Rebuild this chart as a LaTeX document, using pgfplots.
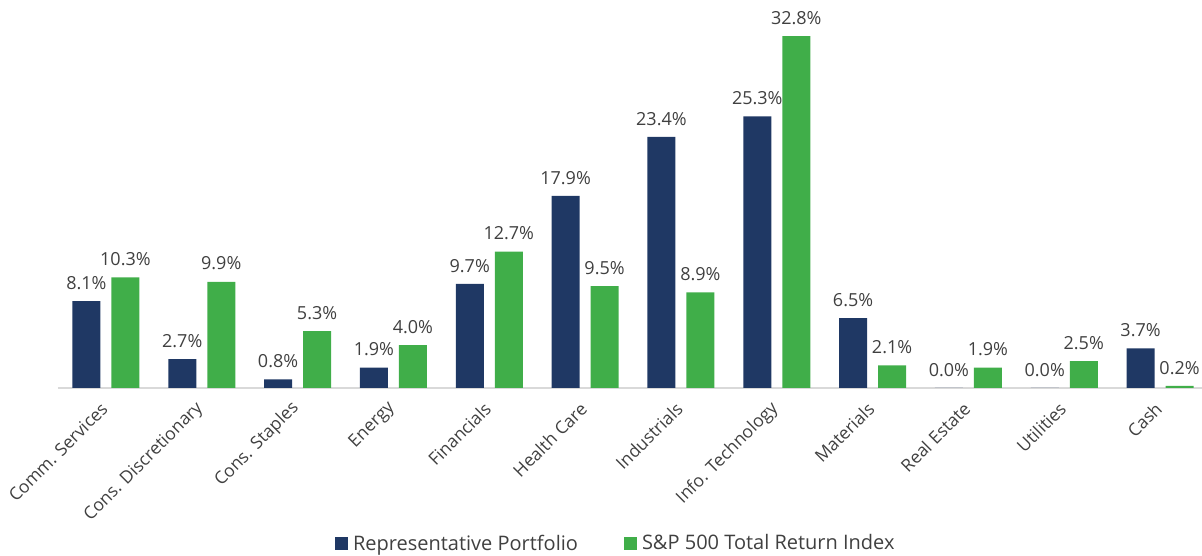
\documentclass[border=0pt]{standalone}
\usepackage{pgfplots}
\pgfplotsset{compat=1.18}
\usepackage{fontspec}
\setmainfont{Open Sans}
\definecolor{navy}{HTML}{1F3864}
\definecolor{grn}{HTML}{40AE49}
\definecolor{txt}{HTML}{404040}
\begin{document}
\begin{tikzpicture}[x=1pt,y=1pt]
\path[use as bounding box] (0,0) rectangle (1202,556);
\begin{axis}[
  at={(58pt,168pt)}, anchor=south west,
  scale only axis, width=1150pt, height=375.6pt,
  ymin=0, ymax=35, xmin=-0.5, xmax=11.5,
  ybar=11pt, bar width=28pt,
  axis y line=none,
  axis x line*=bottom,
  x axis line style={draw=black!15, line width=1.8pt, -},
  xtick=data, xtick style={draw=none},
  xticklabels={Comm. Services, Cons. Discretionary, Cons. Staples, Energy, Financials, Health Care, Industrials, Info. Technology, Materials, Real Estate, Utilities, Cash},
  xticklabel style={yshift=-11pt, xshift=1pt, rotate=45, anchor=east, font=\fontsize{17.5}{19}\selectfont, text=txt},
  /pgf/number format/assume math mode=true,
  nodes near coords={\pgfmathprintnumber[fixed,fixed zerofill,precision=1]{\pgfplotspointmeta}\%},
  every node near coord/.append style={font=\fontsize{18}{20}\selectfont, text=txt, yshift=8pt},
  legend columns=2,
  legend style={at={(0.485,-0.413)}, anchor=center, draw=none, font=\fontsize{20}{22}\selectfont, text=txt,
    /tikz/every odd column/.append style={column sep=3pt},
    /tikz/every even column/.append style={column sep=44pt}},
  legend image code/.code={\fill[#1] (0pt,-6.5pt) rectangle (13pt,6.5pt);},
]
\addplot[fill=navy, draw=none] coordinates {(0,8.1) (1,2.7) (2,0.8) (3,1.9) (4,9.7) (5,17.9) (6,23.4) (7,25.3) (8,6.5) (9,0.0) (10,0.0) (11,3.7)};
\addplot[fill=grn, draw=none] coordinates {(0,10.3) (1,9.9) (2,5.3) (3,4.0) (4,12.7) (5,9.5) (6,8.9) (7,32.8) (8,2.1) (9,1.9) (10,2.5) (11,0.2)};
\legend{Representative Portfolio, S\&P 500 Total Return Index}
\end{axis}
\end{tikzpicture}
\end{document}
